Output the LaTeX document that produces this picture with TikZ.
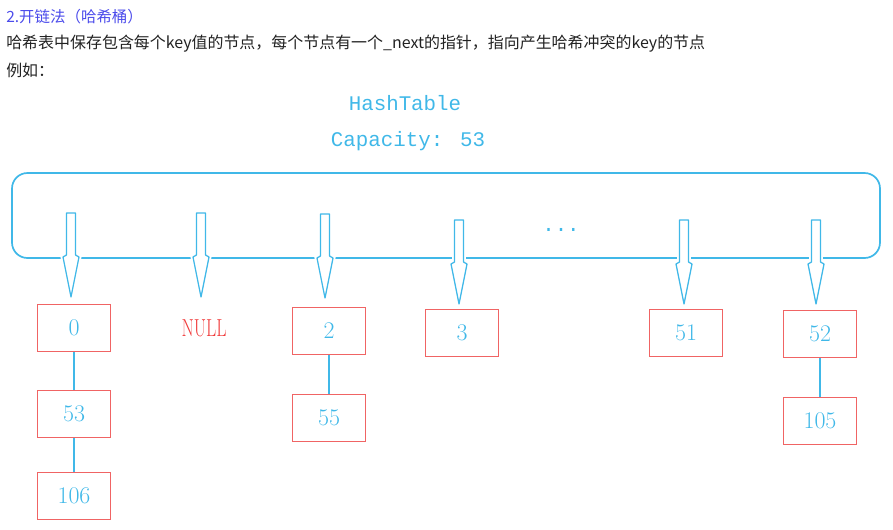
\documentclass[tikz,border=0pt]{standalone}
\usepackage{fontspec}
\usepackage{graphicx}
\newfontfamily\cjk{Noto Sans CJK SC}
\newfontfamily\hashmono{Liberation Mono}
\usetikzlibrary{positioning}
\definecolor{hashblue}{RGB}{64,184,232}
\definecolor{linkred}{RGB}{240,100,100}
\definecolor{nullred}{RGB}{240,60,60}
\definecolor{titleviolet}{RGB}{75,75,235}
\definecolor{plaintext}{RGB}{34,34,34}

\begin{document}
\begin{tikzpicture}[x=0.025cm,y=-0.025cm,
  keybox/.style={draw=linkred,line width=0.9pt,minimum width=52pt,minimum height=33pt,
    inner sep=0pt,text=hashblue,font=\fontsize{17}{17}\selectfont},
  link/.style={hashblue,line width=1pt}]
  \useasboundingbox (0,0) rectangle (893,529);
  % heading text
  \node[anchor=west,inner sep=0pt,text=titleviolet,font=\cjk\fontsize{11}{13}\selectfont] (title) at (6,17) {2.开链法（哈希桶）};
  \node[anchor=west,inner sep=0pt,text=plaintext,font=\cjk\fontsize{11.35}{13}\selectfont] (intro) at (6,44) {哈希表中保存包含每个key值的节点，每个节点有一个\_next的指针，指向产生哈希冲突的key的节点};
  \node[anchor=west,inner sep=0pt,text=plaintext,font=\cjk\fontsize{11.35}{13}\selectfont] (eg) at (6,70) {例如：};
  \node[text=hashblue,font=\hashmono\fontsize{14.8}{16}\selectfont] (name) at (405,103) {HashTable};
  \node[text=hashblue,font=\hashmono\fontsize{14.8}{16}\selectfont] (cap) at (408,141) {Capacity: 53};
  % the table
  \draw[hashblue,line width=1.2pt,rounded corners=11pt] (12,173) rectangle (880,258);
  \node[anchor=base,text=hashblue,font=\hashmono\fontsize{14.8}{16}\selectfont] (dots) at (561,231) {...};
  % hollow arrows into the buckets
  \foreach \x/\top/\tip in {71/213/297,201/213/297,325/214/298,459/220/304,684/220/304,816/220/304}{
    \draw[hashblue,line width=0.9pt,fill=white,line join=round,preaction={draw=white,line width=3.5pt}]
      (\x-4.5,\top) -- (\x+4.5,\top) -- (\x+4.5,\tip-42) -- (\x+8,\tip-40) -- (\x,\tip)
      -- (\x-8,\tip-40) -- (\x-4.5,\tip-42) -- cycle;
  }
  % buckets
  \node[keybox] (k0) at (74,328) {0};
  \node[inner sep=0pt,text=nullred,font=\fontsize{17.5}{18}\selectfont] (null) at (204,328) {\scalebox{0.72}[1]{NULL}};
  \node[keybox] (k2) at (329,331) {2};
  \node[keybox] (k3) at (462,333) {3};
  \node[keybox] (k51) at (686,333) {51};
  \node[keybox] (k52) at (820,334) {52};
  \node[keybox] (k53) at (74,414) {53};
  \node[keybox] (k106) at (74,496) {106};
  \node[keybox] (k55) at (329,418) {55};
  \node[keybox] (k105) at (820,421) {105};
  \draw[link] (k0) -- (k53);
  \draw[link] (k53) -- (k106);
  \draw[link] (k2) -- (k55);
  \draw[link] (k52) -- (k105);
\end{tikzpicture}
\end{document}
